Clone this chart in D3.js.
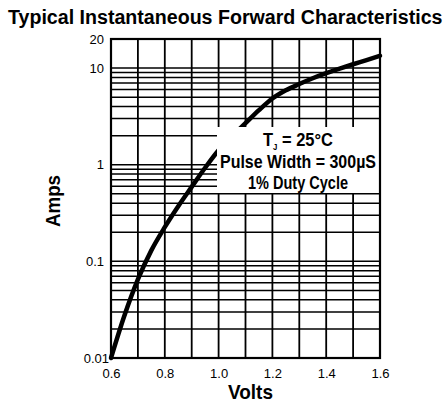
<!DOCTYPE html>
<html>
<head>
<meta charset="utf-8">
<script src="https://cdn.jsdelivr.net/npm/d3@7"></script>
<style>
  body { margin: 0; background: #fff; }
  svg text { fill: #000; }
</style>
</head>
<body>
<div id="chart"></div>
<script>
// curve (volts vs amps)
var curveVolts = [0.6, 0.65, 0.7, 0.75, 0.8, 0.85, 0.9, 0.95, 1.0, 1.05, 1.1, 1.15, 1.2, 1.25, 1.3, 1.35, 1.4, 1.45, 1.5, 1.55, 1.6];
var curveAmps  = [0.01, 0.0275, 0.065, 0.13, 0.226, 0.372, 0.59, 0.93, 1.41, 1.97, 2.69, 3.67, 4.84, 5.89, 6.84, 7.85, 8.87, 9.89, 10.96, 12.1, 13.4];

var xTicks = [0.6, 0.8, 1.0, 1.2, 1.4, 1.6];
var xTickLabels = ["0.6", "0.8", "1.0", "1.2", "1.4", "1.6"];
var yTicks = [20, 10, 1, 0.1, 0.01];
var yTickLabels = ["20", "10", "1", "0.1", "0.01"];

var noteLines = ["T", "Pulse Width = 300\u00b5S", "1% Duty Cycle"];

var svgWidth = 447, svgHeight = 408;
var margin = {top: 39, right: 67, bottom: 50, left: 111};
var width = 380 - margin.left;
var height = 358 - margin.top;

var svg = d3.select("#chart").append("svg")
    .attr("width", svgWidth)
    .attr("height", svgHeight);

var g = svg.append("g").attr("transform", `translate(${margin.left},${margin.top})`);

var x = d3.scaleLinear().domain([0.6, 1.6]).range([0, width]);
var y = d3.scaleLog().domain([0.01, 20]).range([height, 0]);

var boldFont = "'Liberation Sans', Arial, sans-serif";

// vertical grid every 0.1 V
var vLines = d3.range(6, 17).map(d => d / 10);
g.selectAll(".vgrid").data(vLines).enter().append("line")
    .attr("x1", d => x(d)).attr("x2", d => x(d))
    .attr("y1", 0).attr("y2", height)
    .attr("stroke", "#000").attr("stroke-width", 1.8);

// horizontal grid 1..9 per decade + 10 + 20
var hLines = [];
[0.01, 0.1, 1].forEach(function(dec) {
  for (var k = 1; k < 10; k++) hLines.push(dec * k);
});
hLines.push(10, 20);
g.selectAll(".hgrid").data(hLines).enter().append("line")
    .attr("x1", 0).attr("x2", width)
    .attr("y1", d => y(d)).attr("y2", d => y(d))
    .attr("stroke", "#000").attr("stroke-width", 1.5);

// axes (labels only, grid draws the lines)
var xAxis = d3.axisBottom(x).tickValues(xTicks).tickSize(0).tickPadding(11)
    .tickFormat((d, i) => xTickLabels[i]);
var yAxis = d3.axisLeft(y).tickValues(yTicks).tickSize(0).tickPadding(7)
    .tickFormat((d, i) => yTickLabels[i]);

g.append("g").attr("transform", `translate(0,${height})`).call(xAxis)
    .call(a => a.select(".domain").remove())
    .selectAll("text").attr("font-family", "Liberation Sans, Arial, sans-serif")
    .attr("font-size", 13).attr("fill", "#000");
g.append("g").call(yAxis)
    .call(a => a.select(".domain").remove())
    .selectAll("text").attr("font-family", "Liberation Sans, Arial, sans-serif")
    .attr("font-size", 13).attr("fill", "#000")
    .attr("dx", d => d === 0.01 ? 5 : 0);

// the curve
var pts = curveVolts.map((v, i) => [v, curveAmps[i]]);
var line = d3.line().x(d => x(d[0])).y(d => y(d[1])).curve(d3.curveMonotoneX);
g.append("path").datum(pts)
    .attr("d", line)
    .attr("fill", "none").attr("stroke", "#000").attr("stroke-width", 4.5)
    .attr("stroke-linecap", "round");

// annotation box
var boxX = 217 - margin.left, boxY = 127 - margin.top;
g.append("rect")
    .attr("x", boxX).attr("y", boxY)
    .attr("width", width - boxX).attr("height", 66)
    .attr("fill", "#fff");

var t1 = g.append("text").attr("x", 263 - margin.left).attr("y", 146 - margin.top)
    .attr("font-family", boldFont).attr("font-weight", "bold").attr("font-size", 19)
    .attr("textLength", 70).attr("lengthAdjust", "spacingAndGlyphs");
t1.append("tspan").text(noteLines[0]);
t1.append("tspan").attr("font-size", 9).attr("dy", 4).text("J");
t1.append("tspan").attr("dy", -4).text(" =  25\u00b0C");

g.append("text").attr("x", 220 - margin.left).attr("y", 168 - margin.top)
    .attr("font-family", boldFont).attr("font-weight", "bold").attr("font-size", 19)
    .attr("textLength", 156).attr("lengthAdjust", "spacingAndGlyphs")
    .text(noteLines[1]);
g.append("text").attr("x", 248 - margin.left).attr("y", 189 - margin.top)
    .attr("font-family", boldFont).attr("font-weight", "bold").attr("font-size", 19)
    .attr("textLength", 100).attr("lengthAdjust", "spacingAndGlyphs")
    .text(noteLines[2]);

// plot border
g.append("rect").attr("width", width).attr("height", height)
    .attr("fill", "none").attr("stroke", "#000").attr("stroke-width", 2.2);

// title - squeezed horizontally to fit like the condensed original
var title = svg.append("text")
    .attr("font-family", boldFont).attr("font-weight", "bold").attr("font-size", 20)
    .text("Typical Instantaneous Forward Characteristics");
var tw = title.node().getComputedTextLength();
title.attr("transform", `translate(8,24) scale(${435 / tw},1)`);

svg.append("text").attr("x", 228).attr("y", 399)
    .attr("font-family", boldFont).attr("font-weight", "bold").attr("font-size", 21)
    .attr("textLength", 45).attr("lengthAdjust", "spacingAndGlyphs")
    .text("Volts");

svg.append("text").attr("transform", "translate(60,227) rotate(-90)")
    .attr("font-family", boldFont).attr("font-weight", "bold").attr("font-size", 20)
    .attr("textLength", 52).attr("lengthAdjust", "spacingAndGlyphs")
    .text("Amps");
</script>
</body>
</html>
